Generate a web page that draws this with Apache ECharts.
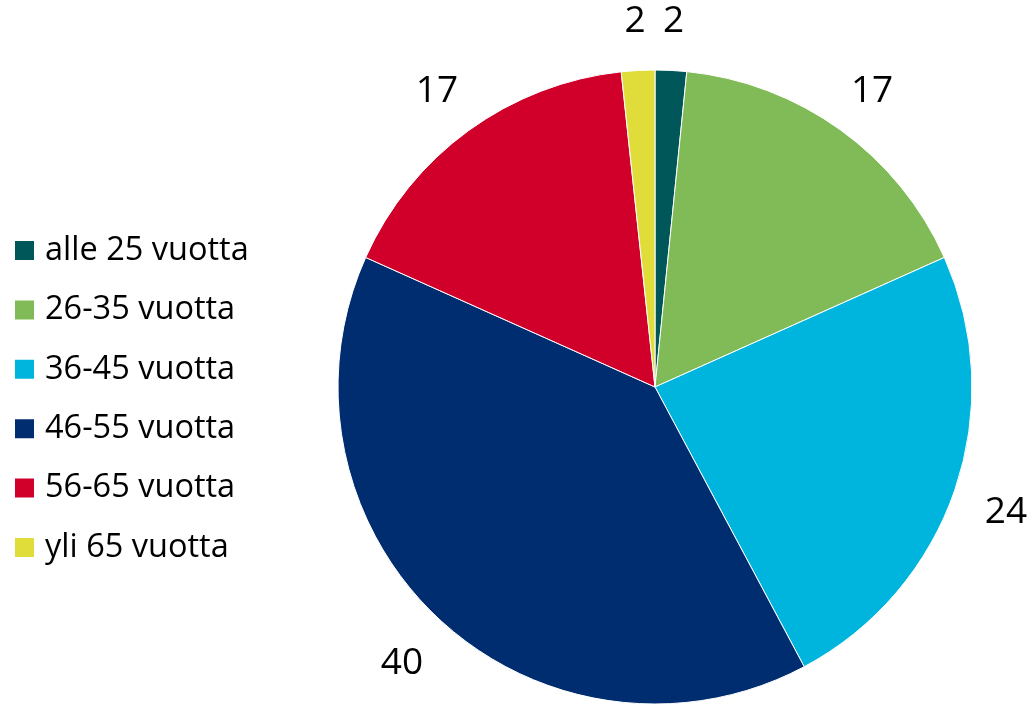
<!DOCTYPE html>
<html><head><meta charset="utf-8">
<script src="https://cdn.jsdelivr.net/npm/echarts@6/dist/echarts.min.js"></script>
<style>html,body{margin:0;padding:0;background:#fff}#c{width:1032px;height:704px}</style>
</head><body><div id="c"></div>
<script>
const categories = ['alle 25 vuotta','26-35 vuotta','36-45 vuotta','46-55 vuotta','56-65 vuotta','yli 65 vuotta'];
const values = [1.6, 16.7, 23.9, 39.5, 16.6, 1.7];
const colors = ['#00575a','#80bb58','#00b5dd','#002d6f','#d0002a','#e0dd3b'];
const FONT = 'Open Sans';
const data = categories.map((n,i)=>({name:n, value:values[i], itemStyle:{color:colors[i]}}));
const chart = echarts.init(document.getElementById('c'));
chart.setOption({
  animation:false,
  legend:{
    orient:'vertical', left:13, top:234, padding:0,
    itemWidth:21, itemHeight:21, itemGap:26.4, icon:'rect',
    textStyle:{fontFamily:FONT, fontSize:32.5, lineHeight:30, color:'#000', padding:[0,0,0,5]},
    data:categories
  },
  series:[
    {type:'pie', center:[655,387], radius:317, startAngle:90, clockwise:true,
     data:data, label:{show:false}, labelLine:{show:false},
     itemStyle:{borderColor:'#fff', borderWidth:1}, emphasis:{disabled:true}},
    {type:'pie', center:[655,387], radius:[346,390], startAngle:90, clockwise:true, silent:true,
     data:categories.map((n,i)=>({name:n, value:values[i], itemStyle:{color:'rgba(0,0,0,0)'}})),
     label:{show:true, position:'inside', formatter:p=>Math.round(p.value), fontFamily:FONT, fontSize:37, color:'#000', offset:[0,5]},
     labelLine:{show:false}, emphasis:{disabled:true}}
  ]
});
</script></body></html>
